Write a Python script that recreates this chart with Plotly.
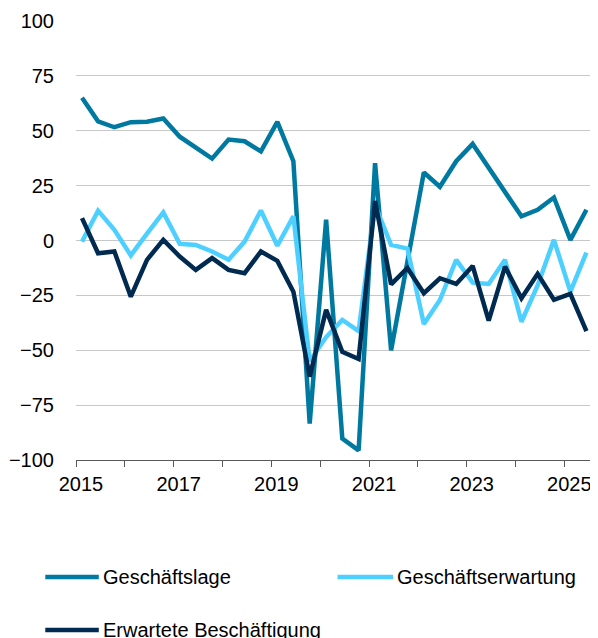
from typing import List
import plotly.graph_objects as go

# survey dates (three surveys per year)
dates : List[str] = [
    "2015-02-15", "2015-06-15", "2015-10-15",
    "2016-02-15", "2016-06-15", "2016-10-15",
    "2017-02-15", "2017-06-15", "2017-10-15",
    "2018-02-15", "2018-06-15", "2018-10-15",
    "2019-02-15", "2019-06-15", "2019-10-15",
    "2020-02-15", "2020-06-15", "2020-10-15",
    "2021-02-15", "2021-06-15", "2021-10-15",
    "2022-02-15", "2022-06-15", "2022-10-15",
    "2023-02-15", "2023-06-15", "2023-10-15",
    "2024-02-15", "2024-06-15", "2024-10-15",
    "2025-02-15", "2025-06-15",
]

geschaeftslage : List[float] = [
    65.0, 54.3, 51.6, 53.9, 54.1, 55.6, 47.3, 42.2, 37.3, 46.0, 45.2, 40.6,
    54.0, 36.1, -83.4, 9.5, -90.2, -95.6, 35.2, -50.0, -11.0, 31.0, 24.5, 36.1,
    44.0, 33.1, 21.6, 11.0, 14.0, 19.6, 0.3, 14.0,
]

geschaeftserwartung : List[float] = [
    -0.5, 13.6, 4.9, -6.8, 3.1, 12.8, -1.5, -2.0, -5.0, -8.8, -0.5, 13.7,
    -2.4, 11.0, -55.0, -44.0, -36.2, -41.3, 16.0, -2.0, -3.7, -38.0, -27.1, -8.8,
    -19.2, -19.8, -8.8, -37.0, -20.5, 0.3, -23.3, -5.5,
]

erwartete_beschaeftigung : List[float] = [
    10.2, -5.8, -5.0, -25.6, -8.8, 0.3, -7.3, -13.4, -8.0, -13.4, -14.9, -5.0,
    -9.3, -23.3, -62.0, -31.6, -50.7, -54.0, 18.0, -20.0, -12.5, -24.0, -17.2, -19.8,
    -11.6, -36.5, -11.9, -26.3, -15.2, -27.0, -24.3, -41.3,
]

series_names : List[str] = ["Geschäftslage", "Geschäftserwartung", "Erwartete Beschäftigung"]
series_colors : List[str] = ["#0079A0", "#4DD0FF", "#002A50"]

year_ticks : List[str] = [f"{y}-01-01" for y in range(2015, 2026)]
year_labels : List[str] = [str(y) if y % 2 == 1 else "" for y in range(2015, 2026)]

y_ticks : List[int] = [-100, -75, -50, -25, 0, 25, 50, 75, 100]

FONT = "Liberation Sans, Arial, sans-serif"
W, H = 598, 638
L, R, T, B = 63, 1, 13, 186


def px_to_paper(x : float, y : float) -> tuple[float, float] :
    return (x - L) / (W - L - R), (H - B - y) / (H - T - B)


fig = go.Figure()
for name, values, color in zip(series_names,
                               [geschaeftslage, geschaeftserwartung, erwartete_beschaeftigung],
                               series_colors) :
    fig.add_trace(go.Scatter(
        x=dates, y=values, name=name, mode="lines",
        line=dict(color=color, width=4.5),
        showlegend=False,
    ))

# legend drawn by hand (long line samples, wide row spacing)
legend_pos = [(32, 86, 569), (327, 383, 569), (32, 86, 622)]
for (x0, x1, y), name, color in zip(legend_pos, series_names, series_colors) :
    px0, py = px_to_paper(x0, y)
    px1, _ = px_to_paper(x1, y)
    fig.add_shape(
        type="line", xref="paper", yref="paper",
        x0=px0, x1=px1, y0=py, y1=py,
        line=dict(color=color, width=4.5),
    )
    tx, ty = px_to_paper(x1 + 2, y)
    fig.add_annotation(
        xref="paper", yref="paper", x=tx, y=ty,
        text=name, showarrow=False, xanchor="left", yanchor="middle",
        font=dict(family=FONT, size=20, color="#000000"),
    )

fig.update_xaxes(
    type="date",
    range=["2015-01-01", "2025-11-01"],
    tickvals=year_ticks, ticktext=year_labels,
    ticks="outside", ticklen=6, tickcolor="#595959", tickwidth=1,
    showline=True, linecolor="#595959", linewidth=1,
    showgrid=False, zeroline=False,
    ticklabelshift=5,
    tickfont=dict(family=FONT, size=20, color="#000000"),
)
fig.update_yaxes(
    range=[-100, 100],
    tickvals=y_ticks,
    showgrid=True, gridcolor="#C8C8C8", gridwidth=1,
    zeroline=False, showline=False, ticks="",
    ticklabelstandoff=21,
    tickfont=dict(family=FONT, size=20, color="#000000"),
)
fig.update_layout(
    width=W, height=H,
    margin=dict(l=L, r=R, t=T, b=B),
    plot_bgcolor="white", paper_bgcolor="white",
    font=dict(family=FONT),
    showlegend=False,
)

fig.write_html("out.html")
